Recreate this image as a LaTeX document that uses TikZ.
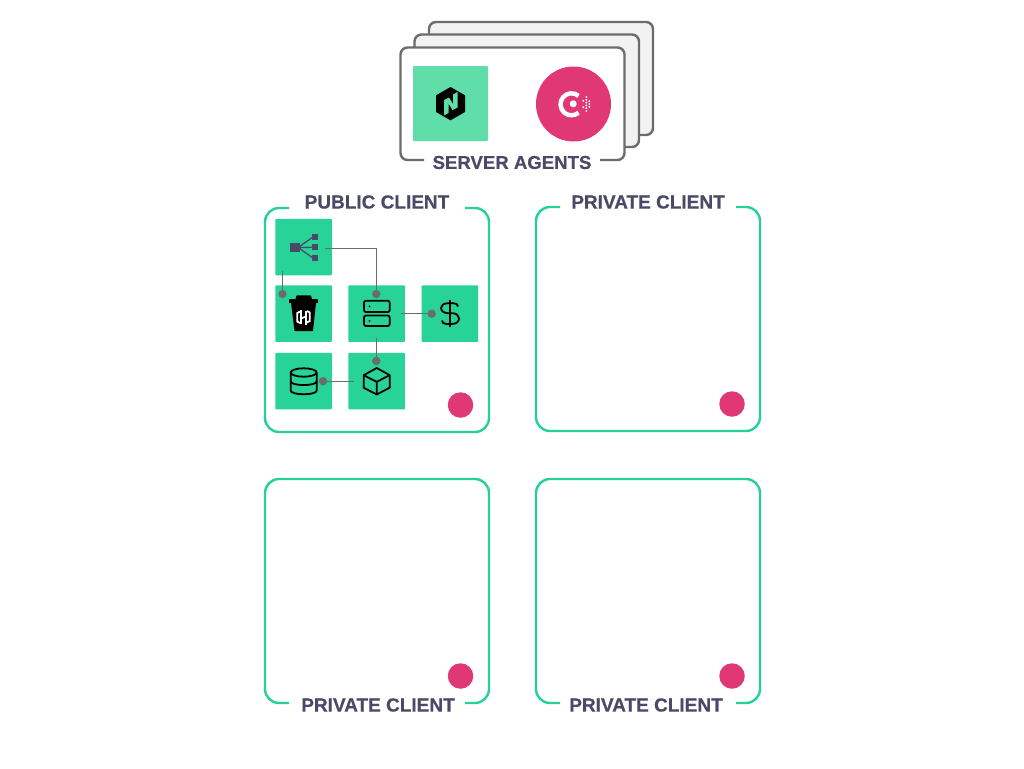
\documentclass[tikz,border=0pt]{standalone}
\usepackage{fontspec}
\setmainfont{Liberation Sans}
\newfontfamily\capfont[FakeBold=0.45]{Liberation Sans Bold}
\definecolor{tilegreen}{HTML}{27D396}
\definecolor{linegreen}{HTML}{27D096}
\definecolor{nomadgreen}{HTML}{60DEA9}
\definecolor{conspink}{HTML}{E03875}
\definecolor{edgegray}{HTML}{6C6C6C}
\definecolor{labelink}{HTML}{4A4A68}
\definecolor{backfill}{HTML}{F2F2F2}
\tikzset{
  agentcard/.style={draw=edgegray,line width=2.4pt,rounded corners=7pt},
  clientframe/.style={draw=linegreen,line width=2.4pt,rounded corners=14pt},
  tile/.style={fill=tilegreen,rounded corners=0.8pt,minimum size=56.5pt,inner sep=0pt,outer sep=0pt},
  pinkdot/.style={circle,fill=conspink,minimum size=25.5pt,inner sep=0pt},
  caption/.style={font=\capfont\fontsize{19}{21}\selectfont,text=labelink,inner sep=0pt},
  servercaption/.style={font=\capfont\fontsize{18.6}{21}\selectfont,text=labelink,inner sep=0pt},
  joint/.style={circle,fill=edgegray,minimum size=8.4pt,inner sep=0pt,outer sep=0pt},
  wire/.style={draw=edgegray,line width=1.3pt},
  icon/.style={draw=black,line width=1.8pt,fill=none,line join=round}
}
\begin{document}
\begin{tikzpicture}[x=1pt,y=-1pt]
\useasboundingbox (0,0) rectangle (1024,768);
\fill[white] (0,0) rectangle (1024,768);
% server agents
\draw[agentcard,fill=backfill] (429,22) rectangle (653,135);
\draw[agentcard,fill=backfill] (414.5,34.5) rectangle (639,147);
\fill[white,rounded corners=7pt] (400.5,47.5) rectangle (624.5,160);
\draw[agentcard] (424,160) -- (400.5,160) -- (400.5,47.5) -- (624.5,47.5) -- (624.5,160) -- (600,160);
\node[servercaption] (servers) at (512,162.5) {SERVER AGENTS};
\node[fill=nomadgreen,rounded corners=0.8pt,minimum size=75pt,inner sep=0pt] (nomad) at (450.5,103.5) {};
\node[circle,fill=conspink,minimum size=75pt,inner sep=0pt] (consul) at (573.5,104) {};
% nomad logo
\fill[black] (450.5,87) -- (465,95.3) -- (465,112) -- (450.5,120.3) -- (436,112) -- (436,95.3) -- cycle;
\fill[nomadgreen] (444,115.5) -- (444,100) -- (449,97.5) -- (453,104) -- (453,94.5) -- (457.5,92) -- (457.5,107.5) -- (452.5,110) -- (448.5,103.5) -- (448.5,113) -- cycle;
% consul logo
\draw[white,line width=4.4pt] ({571.5+11*cos(50)},{104.3-11*sin(50)}) arc[start angle=-50,end angle=-310,radius=11];
\fill[white] (573.2,103.8) circle (3.5);
\foreach \dx/\dy in {0/-7,0/-4.2,0/-1.4,0/1.4,0/4.2,0/7,3/-2.8,3/0,3/2.8,-3/-3.2,-3/3.2}
  \fill[white] ({586.3+\dx},{104+\dy}) circle (1.05);
% client frames
\draw[clientframe] (289,208) -- (265,208) -- (265,432) -- (489,432) -- (489,208) -- (465,208);
\draw[clientframe] (560,207) -- (536,207) -- (536,431) -- (760,431) -- (760,207) -- (736,207);
\draw[clientframe] (289,703) -- (265,703) -- (265,479) -- (489,479) -- (489,703) -- (465,703);
\draw[clientframe] (560,703) -- (536,703) -- (536,479) -- (760,479) -- (760,703) -- (736,703);
\node[caption] (pubc) at (377,202) {PUBLIC CLIENT};
\node[caption] (privb) at (648,202) {PRIVATE CLIENT};
\node[caption] (privc) at (378,705) {PRIVATE CLIENT};
\node[caption] (privd) at (646,705) {PRIVATE CLIENT};
\node[pinkdot] (pa) at (460.5,405) {};
\node[pinkdot] (pb) at (732,404) {};
\node[pinkdot] (pc) at (460.5,676) {};
\node[pinkdot] (pd) at (732,676) {};
% tiles
\node[tile] (lb) at (303.5,247) {};
\node[tile] (cup) at (303.5,313.7) {};
\node[tile] (srv) at (376.7,313.7) {};
\node[tile] (pay) at (449.9,313.7) {};
\node[tile] (db) at (303.5,381.2) {};
\node[tile] (box) at (376.7,381.2) {};
% tree icon
\begin{scope}[draw=labelink,fill=labelink]
\fill (290,243) rectangle (299.5,252);
\fill (311.5,234) rectangle (317.5,240);
\fill (311.5,244.3) rectangle (317.5,250.3);
\fill (311.5,255) rectangle (317.5,261);
\draw[line width=1.3pt] (298,247.5) -- (313,237) (298,247.5) -- (313,247.3) (298,247.5) -- (313,258);
\end{scope}
% cup icon
\fill[black,rounded corners=0.6pt] (295.5,299) -- (296.5,295.3) -- (310.8,295.3) -- (312,299) -- cycle;
\fill[black,rounded corners=0.8pt] (289,299) rectangle (318,303.2);
\fill[black] (291,303) -- (316,303) -- (313,331) -- (294.5,331) -- cycle;
\begin{scope}[white,line width=1.8pt]
\draw (300,311.5) -- (297.3,313) -- (297.3,321.5) -- (300,323);
\draw (307,311) -- (309.7,312.5) -- (309.7,321) -- (307,322.5);
\draw (301.2,310) -- (301.2,324);
\draw (305.8,310.5) -- (305.8,324.5);
\draw (301.2,318.5) -- (305.8,316.5);
\end{scope}
% server icon
\draw[icon,rounded corners=2pt] (364,300.7) rectangle (389.7,312);
\draw[icon,rounded corners=2pt] (364,315.5) rectangle (389.7,326);
\fill[black] (369.5,306.3) circle (1);
\fill[black] (369.5,320.8) circle (1);
% dollar icon
\draw[icon] (450,300) -- (450,327.3);
\draw[icon] (458,306.5) .. controls (458,304.2) and (456,303.2) .. (453,303.2) -- (448,303.2) .. controls (443,303.2) and (441,306) .. (441,308) .. controls (441,311) and (444,313.2) .. (448,313.2) -- (452,313.2) .. controls (456.5,313.2) and (459,315.5) .. (459,318.5) .. controls (459,321.5) and (456.5,324) .. (451.5,324) -- (446.5,324) .. controls (443.5,324) and (442,322.5) .. (442,320.5);
% database icon
\draw[icon] (303.7,372.5) ellipse (13 and 4.2);
\draw[icon] (290.7,372.5) -- (290.7,390.5) .. controls (290.7,395.5) and (316.7,395.5) .. (316.7,390.5) -- (316.7,372.5);
\draw[icon] (290.7,381.3) .. controls (290.7,386.3) and (316.7,386.3) .. (316.7,381.3);
% cube icon
\draw[icon] (376.7,368) -- (389.7,375.2) -- (389.7,387.7) -- (376.7,394.5) -- (363.7,387.7) -- (363.7,375.2) -- cycle;
\draw[icon] (363.7,375.2) -- (376.7,381.8) -- (389.7,375.2) (376.7,381.8) -- (376.7,394.5);
% connectors
\node[joint] (j1) at (282.5,294) {};
\node[joint] (j2) at (376.3,294) {};
\node[joint] (j3) at (431.7,313.7) {};
\node[joint] (j4) at (376.3,361) {};
\node[joint] (j5) at (323,381.2) {};
\coordinate (s1) at (282.5,271);
\coordinate (s2) at (325,248.5);
\coordinate (s3) at (401,313.7);
\coordinate (s4) at (376.3,337.5);
\coordinate (s5) at (354,381.2);
\draw[wire] (s1) -- (j1);
\draw[wire] (s2) -| (j2);
\draw[wire] (s3) -- (j3);
\draw[wire] (s4) -- (j4);
\draw[wire] (s5) -- (j5);
\end{tikzpicture}
\end{document}
